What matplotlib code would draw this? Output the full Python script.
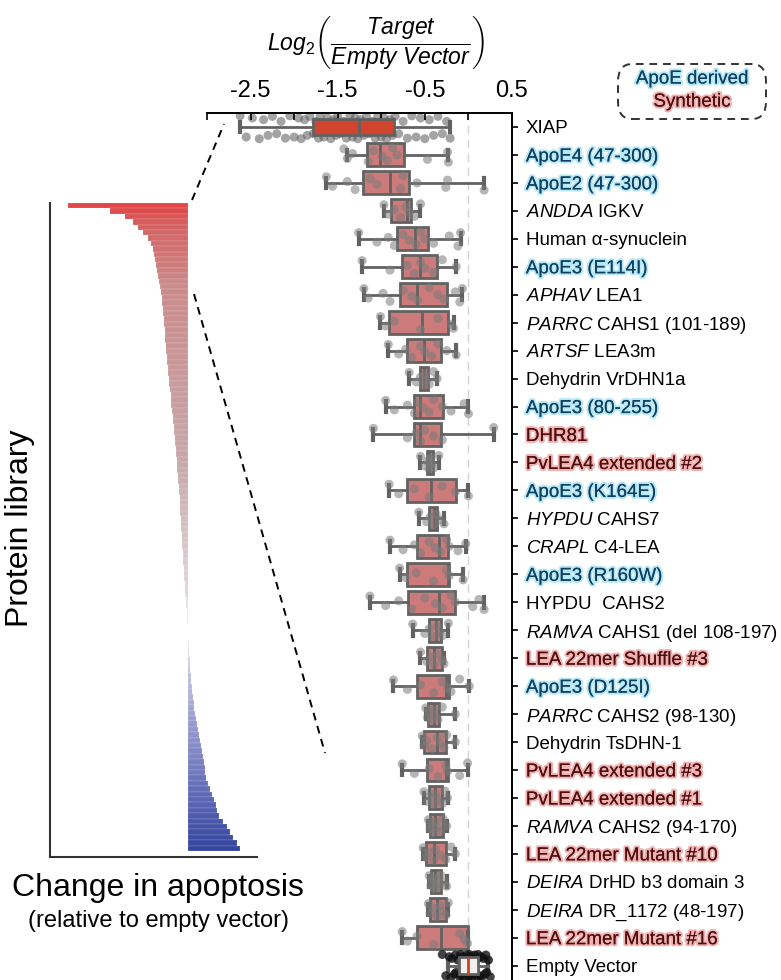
import numpy as np
import matplotlib
matplotlib.use('Agg')
import matplotlib.pyplot as plt
import matplotlib.patheffects as pe
from matplotlib.colors import LinearSegmentedColormap
from matplotlib.lines import Line2D
from matplotlib.patches import FancyBboxPatch

plt.rcParams['font.family'] = ['Liberation Sans', 'DejaVu Sans']
plt.rcParams['mathtext.fontset'] = 'custom'
plt.rcParams['mathtext.rm'] = 'Liberation Sans'
plt.rcParams['mathtext.it'] = 'Liberation Sans:italic'
plt.rcParams['mathtext.bf'] = 'Liberation Sans:bold'

# ---- data: protein library (left panel), sorted change in apoptosis
library_change = [
    -1.30, -0.85, -0.68, -0.60, -0.54, -0.49, -0.44, -0.40, -0.38, -0.37,
    -0.36, -0.35, -0.34, -0.33, -0.31, -0.30, -0.29, -0.285, -0.28, -0.275,
    -0.27, -0.265, -0.26, -0.255, -0.25, -0.245, -0.24, -0.235, -0.23, -0.225,
    -0.22, -0.215, -0.21, -0.205, -0.20, -0.19, -0.185, -0.18, -0.175, -0.165,
    -0.16, -0.155, -0.15, -0.145, -0.14, -0.135, -0.13, -0.125, -0.12, -0.115,
    -0.11, -0.105, -0.10, -0.095, -0.092, -0.088, -0.085, -0.082, -0.078, -0.075,
    -0.072, -0.068, -0.065, -0.062, -0.058, -0.055, -0.052, -0.048, -0.045, -0.042,
    -0.038, -0.034, -0.030, -0.025, -0.020, -0.015, -0.012, -0.008, -0.004, 0.0,
    0.005, 0.010, 0.012, 0.015, 0.018, 0.020, 0.025, 0.030, 0.035, 0.040,
    0.045, 0.050, 0.060, 0.070, 0.080, 0.090, 0.100, 0.110, 0.120, 0.130,
    0.140, 0.150, 0.160, 0.170, 0.180, 0.190, 0.200, 0.220, 0.240, 0.260,
    0.280, 0.300, 0.310, 0.340, 0.380, 0.420, 0.460, 0.490, 0.530, 0.570,
]

# ---- data: selected proteins (right panel), log2(target / empty vector)
labels = [
    'XIAP', 'ApoE4 (47-300)', 'ApoE2 (47-300)', r'$\mathit{ANDDA}$ IGKV',
    'Human α-synuclein', 'ApoE3 (E114I)', r'$\mathit{APHAV}$ LEA1',
    r'$\mathit{PARRC}$ CAHS1 (101-189)', r'$\mathit{ARTSF}$ LEA3m',
    'Dehydrin VrDHN1a', 'ApoE3 (80-255)', 'DHR81', 'PvLEA4 extended #2',
    'ApoE3 (K164E)', r'$\mathit{HYPDU}$ CAHS7', r'$\mathit{CRAPL}$ C4-LEA',
    'ApoE3 (R160W)', 'HYPDU  CAHS2', r'$\mathit{RAMVA}$ CAHS1 (del 108-197)',
    'LEA 22mer Shuffle #3', 'ApoE3 (D125I)', r'$\mathit{PARRC}$ CAHS2 (98-130)',
    'Dehydrin TsDHN-1', 'PvLEA4 extended #3', 'PvLEA4 extended #1',
    r'$\mathit{RAMVA}$ CAHS2 (94-170)', 'LEA 22mer Mutant #10',
    r'$\mathit{DEIRA}$ DrHD b3 domain 3', r'$\mathit{DEIRA}$ DR_1172 (48-197)',
    'LEA 22mer Mutant #16', 'Empty Vector',
]
kinds = ['ctrl', 'apoe', 'apoe', 'other', 'other', 'apoe', 'other', 'other',
         'other', 'other', 'apoe', 'syn', 'syn', 'apoe', 'other', 'other',
         'apoe', 'other', 'other', 'syn', 'apoe', 'other', 'other', 'syn',
         'syn', 'other', 'syn', 'other', 'other', 'syn', 'ctrl']

whis_lo = [-2.62, -1.39, -1.63, -0.97, -1.26, -1.22, -1.20, -1.01, -0.92, -0.68,
           -0.95, -1.09, -0.55, -0.91, -0.57, -0.90, -0.79, -1.13, -0.64, -0.55,
           -0.86, -0.49, -0.53, -0.76, -0.51, -0.46, -0.52, -0.45, -0.46, -0.76,
           -0.24]
q1 = [-1.78, -1.16, -1.21, -0.89, -0.82, -0.76, -0.79, -0.91, -0.70, -0.55,
      -0.63, -0.63, -0.47, -0.71, -0.45, -0.59, -0.70, -0.69, -0.45, -0.48,
      -0.59, -0.46, -0.51, -0.48, -0.45, -0.44, -0.49, -0.43, -0.44, -0.59,
      -0.11]
median = [-1.25, -1.01, -0.90, -0.70, -0.61, -0.55, -0.59, -0.53, -0.51, -0.51,
          -0.55, -0.56, -0.45, -0.43, -0.40, -0.34, -0.24, -0.34, -0.37, -0.39,
          -0.26, -0.40, -0.36, -0.26, -0.38, -0.38, -0.39, -0.38, -0.36, -0.32,
          0.0]
q3 = [-0.85, -0.74, -0.68, -0.66, -0.46, -0.36, -0.25, -0.24, -0.31, -0.46,
      -0.29, -0.32, -0.41, -0.14, -0.36, -0.23, -0.22, -0.15, -0.31, -0.30,
      -0.22, -0.34, -0.26, -0.24, -0.30, -0.29, -0.26, -0.32, -0.26, -0.01,
      0.11]
whis_hi = [-0.21, -0.23, 0.18, -0.55, -0.09, -0.14, -0.07, -0.17, -0.14, -0.36,
           0.0, 0.29, -0.34, 0.0, -0.28, -0.03, -0.06, 0.18, -0.23, -0.28,
           0.01, -0.15, -0.15, -0.01, -0.24, -0.25, -0.15, -0.25, -0.23, -0.01,
           0.23]

points = [
    [-2.62, -2.55, -2.48, -2.40, -2.35, -2.30, -2.25, -2.20, -2.15, -2.10,
     -2.05, -2.00, -1.95, -1.92, -1.88, -1.85, -1.82, -1.78, -1.75, -1.72,
     -1.70, -1.66, -1.62, -1.58, -1.55, -1.52, -1.50, -1.47, -1.43, -1.40,
     -1.36, -1.33, -1.30, -1.27, -1.24, -1.20, -1.17, -1.14, -1.10, -1.07,
     -1.04, -1.00, -0.97, -0.94, -0.90, -0.87, -0.84, -0.80, -0.75, -0.70,
     -0.65, -0.60, -0.55, -0.50, -0.45, -0.40, -0.35, -0.30, -0.25, -0.21],
    [-1.43, -1.39, -1.33, -1.15, -1.09, -0.99, -0.93, -0.87, -0.82, -0.47, -0.24, -0.23],
    [-1.63, -1.56, -1.39, -1.30, -1.13, -1.05, -0.78, -0.75, -0.59, -0.26, -0.24, 0.18],
    [-0.97, -0.92, -0.85, -0.78, -0.72, -0.68, -0.62, -0.55],
    [-1.26, -1.05, -0.92, -0.85, -0.75, -0.68, -0.60, -0.55, -0.50, -0.40, -0.22, -0.12, -0.09],
    [-1.22, -0.90, -0.70, -0.62, -0.55, -0.50, -0.40, -0.30, -0.14],
    [-1.20, -1.15, -0.98, -0.90, -0.75, -0.65, -0.58, -0.45, -0.35, -0.28, -0.15, -0.10, -0.07],
    [-1.01, -0.95, -0.85, -0.55, -0.35, -0.20, -0.17],
    [-0.92, -0.80, -0.72, -0.65, -0.55, -0.50, -0.42, -0.35, -0.25, -0.14],
    [-0.68, -0.60, -0.55, -0.52, -0.50, -0.48, -0.45, -0.40, -0.36],
    [-0.95, -0.85, -0.70, -0.62, -0.58, -0.52, -0.45, -0.40, -0.30, -0.20, -0.05, 0.0],
    [-1.09, -0.70, -0.60, -0.55, -0.50, -0.40, -0.30, 0.29],
    [-0.55, -0.50, -0.47, -0.45, -0.44, -0.42, -0.40, -0.34],
    [-0.91, -0.80, -0.62, -0.45, -0.30, -0.15, 0.0],
    [-0.57, -0.48, -0.44, -0.40, -0.37, -0.33, -0.28],
    [-0.90, -0.75, -0.62, -0.55, -0.45, -0.38, -0.32, -0.25, -0.22, -0.12, -0.03],
    [-0.79, -0.72, -0.60, -0.40, -0.25, -0.22, -0.06],
    [-1.13, -0.95, -0.80, -0.65, -0.50, -0.38, -0.30, -0.20, -0.15, 0.05, 0.12, 0.18],
    [-0.64, -0.50, -0.45, -0.40, -0.36, -0.33, -0.30, -0.23],
    [-0.55, -0.48, -0.42, -0.39, -0.35, -0.30, -0.28],
    [-0.86, -0.70, -0.55, -0.40, -0.30, -0.24, -0.20, -0.10, 0.01],
    [-0.49, -0.47, -0.45, -0.43, -0.40, -0.38, -0.35, -0.30, -0.15],
    [-0.53, -0.51, -0.48, -0.42, -0.36, -0.32, -0.28, -0.25, -0.15],
    [-0.76, -0.62, -0.45, -0.35, -0.26, -0.24, -0.10, -0.01],
    [-0.51, -0.47, -0.44, -0.40, -0.38, -0.35, -0.30, -0.27, -0.24],
    [-0.46, -0.44, -0.42, -0.40, -0.38, -0.36, -0.33, -0.29, -0.25],
    [-0.52, -0.49, -0.45, -0.40, -0.38, -0.32, -0.26, -0.20, -0.15],
    [-0.45, -0.43, -0.41, -0.39, -0.38, -0.36, -0.34, -0.32, -0.28, -0.25],
    [-0.46, -0.44, -0.40, -0.36, -0.33, -0.30, -0.26, -0.23],
    [-0.76, -0.70, -0.59, -0.40, -0.10, -0.05, -0.01],
    [-0.30, -0.26, -0.22, -0.20, -0.19, -0.16, -0.15, -0.14, -0.12, -0.10,
     -0.09, -0.08, -0.07, -0.05, -0.04, -0.03, -0.02, -0.01, 0.0, 0.0,
     0.01, 0.02, 0.03, 0.04, 0.05, 0.06, 0.07, 0.08, 0.09, 0.10,
     0.11, 0.13, 0.14, 0.15, 0.17, 0.19, 0.20, 0.21, 0.23, 0.25],
]

W, H = 781, 980
fig = plt.figure(figsize=(W / 100, H / 100), dpi=100)


def fx(px):
    return px / W


def fy(py):
    return 1 - py / H


# ---- left panel: whole library as sorted bars
lib_cmap = LinearSegmentedColormap.from_list('lib', [
    (0.0, '#e24646'), (0.03, '#d46262'), (0.12, '#cb8a8a'), (0.4, '#c8a8aa'),
    (0.6, '#e0d6da'), (0.665, '#f8f6fa'), (0.72, '#c4c4e2'), (0.86, '#7c84c4'),
    (1.0, '#3646a0')])
n_lib = len(library_change)
ax_lib = fig.add_axes([fx(50), fy(857), fx(257) - fx(50), fy(203) - fy(857)])
ax_lib.barh(np.arange(n_lib), library_change, height=1.0,
            color=lib_cmap(np.linspace(0, 1, n_lib)), edgecolor='#ffffff80', linewidth=0.2)
ax_lib.set_xlim(-1.5, 0.75)
ax_lib.set_ylim(n_lib + 0.6, -0.5)
for s in ['top', 'right']:
    ax_lib.spines[s].set_visible(False)
for s in ['left', 'bottom']:
    ax_lib.spines[s].set_color('#333333')
    ax_lib.spines[s].set_linewidth(1.5)
ax_lib.set_xticks([])
ax_lib.set_yticks([])

fig.text(fx(20), fy(528), 'Protein library', rotation=90, fontsize=23,
         ha='center', va='center')
fig.text(fx(158), fy(888), 'Change in apoptosis', fontsize=23, ha='center', va='center')
fig.text(fx(158), fy(921), '(relative to empty vector)', fontsize=17, ha='center', va='center')

# ---- right panel: box plots
n = len(labels)
ax = fig.add_axes([fx(207), fy(983), fx(512) - fx(207), fy(113) - fy(983)])
ax.patch.set_visible(False)

stats = []
for i in range(n):
    stats.append(dict(whislo=whis_lo[i], q1=q1[i], med=median[i], q3=q3[i],
                      whishi=whis_hi[i], fliers=[]))
widths = [0.6 if k == 'ctrl' else 0.82 for k in kinds]
edge = '#626262'
bp = ax.bxp(stats, positions=np.arange(n), widths=widths, orientation='horizontal',
            patch_artist=True, showfliers=False, capwidths=0.38,
            boxprops=dict(facecolor='#cc7a7a', edgecolor=edge, linewidth=2),
            whiskerprops=dict(color=edge, linewidth=2),
            capprops=dict(color=edge, linewidth=3),
            medianprops=dict(color=edge, linewidth=2))
for art in bp['boxes'] + bp['whiskers'] + bp['caps'] + bp['medians']:
    art.set_zorder(2)
bp['boxes'][0].set_facecolor('#d2442e')
bp['boxes'][-1].set_facecolor('#f0f0f0')
bp['medians'][-1].set_color('#d0401c')
for art in [bp['boxes'][-1], bp['medians'][-1]]:
    art.set_zorder(4)

jitter = [-0.22, 0.12, -0.05, 0.24, -0.15, 0.05, 0.2, -0.25, 0.0, 0.16, -0.1, 0.26]
band = [-0.4, 0.36, -0.32, 0.42, -0.26, 0.3, -0.38, 0.24, -0.2, 0.4]
for i, vals in enumerate(points):
    if kinds[i] == 'ctrl':
        offs = [band[j % len(band)] for j in range(len(vals))]
        col, alpha, z = ('#5a5a5a', 0.55, 1.5) if i == 0 else ('#111111', 0.8, 3)
    else:
        offs = [jitter[j % len(jitter)] for j in range(len(vals))]
        col, alpha, z = '#7a7a7a', 0.55, 3
    ax.scatter(vals, [i + o for o in offs], s=42, color=col, alpha=alpha,
               edgecolors='none', zorder=z)

ax.axvline(0, color='#d4d4d4', lw=1, ls=(0, (6, 4)), zorder=0)
ax.set_xlim(-3.0, 0.5)
ax.set_ylim(n - 0.5 + 0.12, -0.5)

xt = np.arange(-3.0, 0.51, 0.5)
ax.xaxis.tick_top()
ax.set_xticks(xt)
ax.set_xticklabels(['' if abs(v * 2) % 2 == 0 else f'{v:.1f}' for v in xt], fontsize=17)
ax.tick_params(axis='x', direction='in', length=5, width=1.2, pad=8)

ax.yaxis.tick_right()
ax.set_yticks(np.arange(n))
ax.set_yticklabels(labels, fontsize=13.5)
ax.tick_params(axis='y', direction='out', length=4, width=1.2, pad=6)
for s in ['left', 'bottom']:
    ax.spines[s].set_visible(False)
for s in ['top', 'right']:
    ax.spines[s].set_linewidth(1.4)

text_style = {
    'apoe': ('#123e5e', '#b4e8f6'),
    'syn': ('#4a1010', '#f2b0b0'),
}
for lab, k in zip(ax.get_yticklabels(), kinds):
    if k in text_style:
        c, glow = text_style[k]
        lab.set_color(c)
        lab.set_path_effects([pe.withStroke(linewidth=3, foreground=glow), pe.Normal()])

# ---- title
fig.text(fx(376), fy(44),
         r'$\mathit{Log}_{2}\left(\dfrac{\mathit{Target}}{\mathit{Empty\ Vector}}\right)$',
         fontsize=16.5, ha='center', va='center')

# ---- legend box
fig.add_artist(FancyBboxPatch((fx(618), fy(119)), fx(766) - fx(618), fy(64) - fy(119),
                              boxstyle='round,pad=0,rounding_size=0.018',
                              transform=fig.transFigure, fill=False,
                              ls=(0, (4, 3)), lw=1.4, ec='#333333'))
c, glow = text_style['apoe']
fig.text(fx(692), fy(79), 'ApoE derived', fontsize=13.5, ha='center', va='center', color=c,
         path_effects=[pe.withStroke(linewidth=3, foreground=glow), pe.Normal()])
c, glow = text_style['syn']
fig.text(fx(692), fy(102), 'Synthetic', fontsize=13.5, ha='center', va='center', color=c,
         path_effects=[pe.withStroke(linewidth=3, foreground=glow), pe.Normal()])

# ---- zoom connector lines
fig.add_artist(Line2D([fx(192), fx(224)], [fy(200), fy(124)], transform=fig.transFigure,
                      color='black', lw=1.4, ls=(0, (4, 3))))
fig.add_artist(Line2D([fx(194), fx(325)], [fy(294), fy(753)], transform=fig.transFigure,
                      color='black', lw=1.4, ls=(0, (4, 3))))

fig.savefig('out.png', dpi=100)
